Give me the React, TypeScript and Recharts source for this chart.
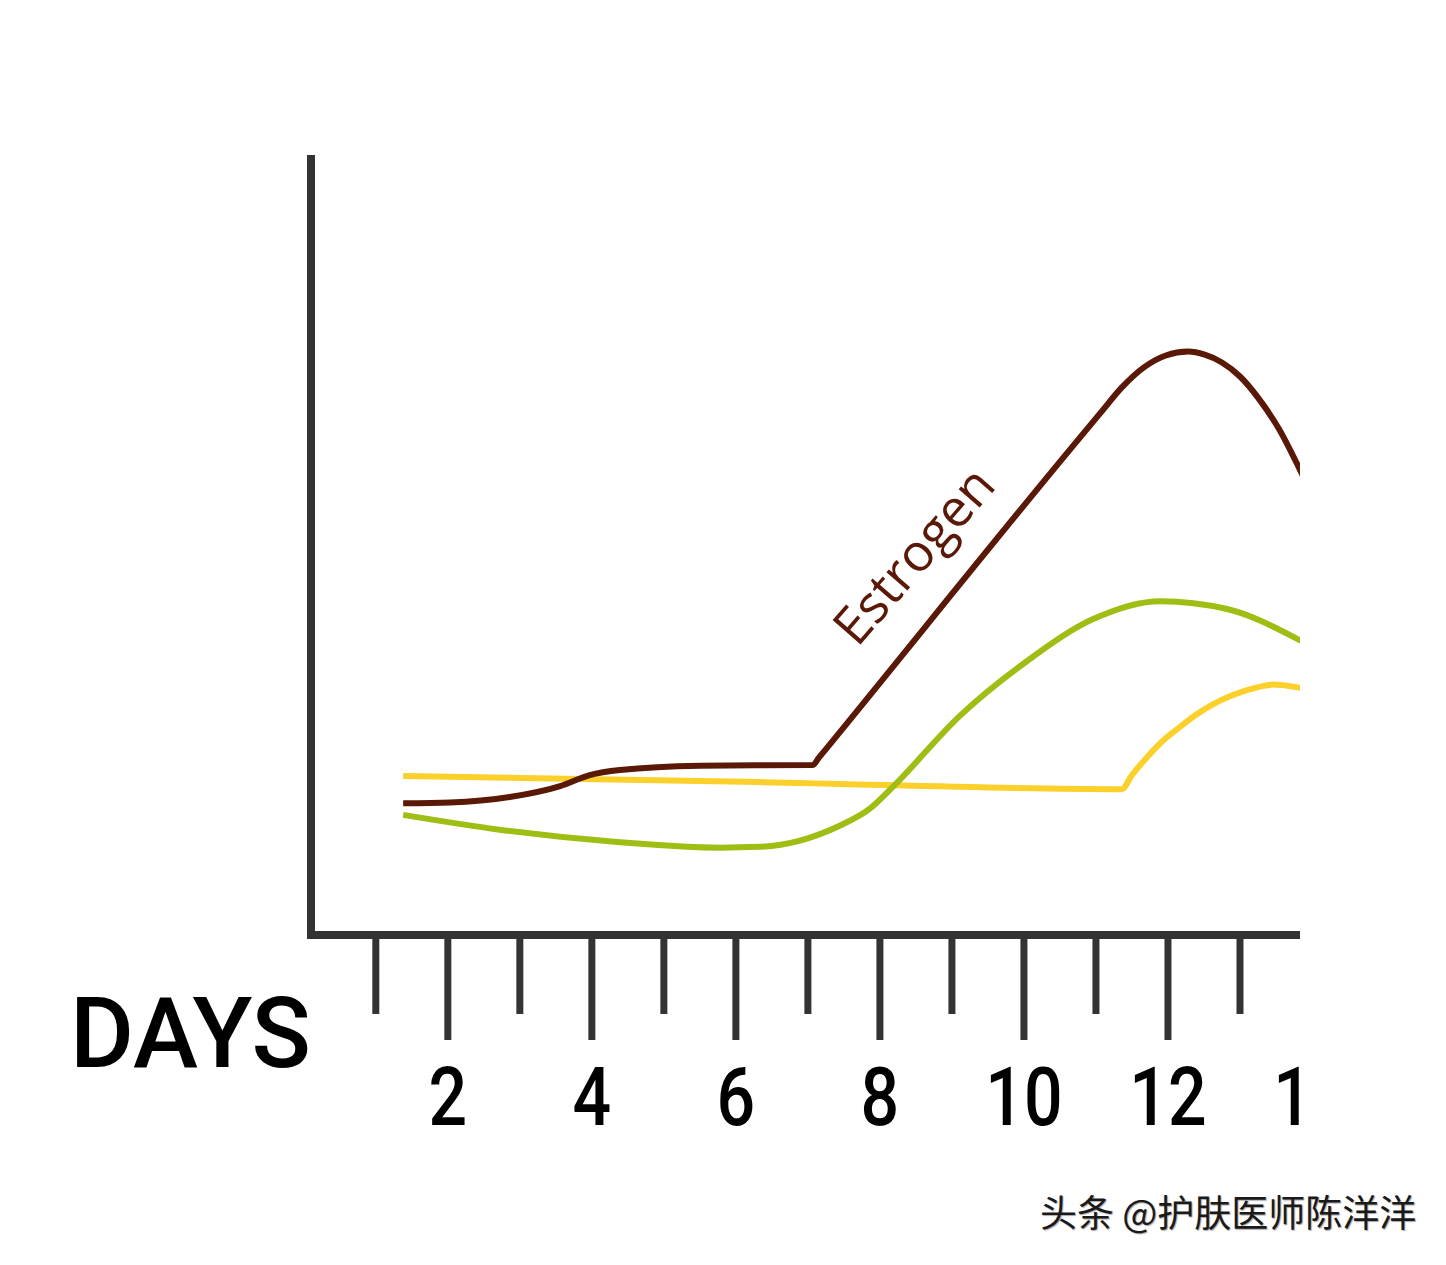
import React from "react";
import { LineChart, Line, XAxis, YAxis } from "recharts";

// day positions + hormone level (0-100 scale)
const estrogenDays = [1.38, 2.03, 2.86, 3.56, 3.97, 4.39, 5.5, 7.07, 7.15, 10.78, 11.06, 11.36, 11.67, 11.97, 12.28, 12.51, 12.75, 13.0, 13.25, 13.54, 13.83, 14.11];
const estrogenLevels = [16.9, 17.0, 17.7, 19.1, 20.5, 21.15, 21.7, 21.8, 22.7, 63.8, 66.9, 70.2, 72.8, 74.3, 74.8, 74.4, 73.4, 71.6, 68.9, 64.9, 59.7, 54.3];

const greenDays = [1.38, 2.72, 4.39, 5.78, 6.33, 6.89, 7.44, 7.86, 8.18, 9.11, 10.04, 10.96, 11.89, 12.82, 13.83, 14.11];
const greenLevels = [15.4, 13.5, 11.9, 11.2, 11.3, 12.1, 14.0, 16.2, 19.0, 28.1, 35.1, 40.5, 42.8, 41.8, 37.8, 36.4];

const yellowDays = [1.38, 6.33, 11.36, 11.5, 11.71, 11.93, 12.17, 12.4, 12.63, 12.86, 13.1, 13.46, 13.83, 14.11];
const yellowLevels = [20.4, 19.6, 18.7, 20.5, 22.8, 24.9, 26.7, 28.3, 29.6, 30.6, 31.4, 32.1, 31.7, 31.2];

const dayTicks = [1, 2, 3, 4, 5, 6, 7, 8, 9, 10, 11, 12, 13, 14];

const toRows = (days: number[], levels: number[]) =>
  days.map((day, i) => ({ day, level: levels[i] }));

const estrogenData = toRows(estrogenDays, estrogenLevels);
const greenData = toRows(greenDays, greenLevels);
const yellowData = toRows(yellowDays, yellowLevels);

const AXIS = "#333333";

const DayTick = (props: any) => {
  const { x, y, payload } = props;
  const major = payload.value % 2 === 0;
  return (
    <g>
      <line x1={x} x2={x} y1={y} y2={y + (major ? 105 : 79)} stroke={AXIS} strokeWidth={7} />
      {major && (
        <text
          x={x}
          y={y + 190}
          textAnchor="middle"
          fontFamily="Roboto"
          fontWeight={500}
          fontSize={81}
          fill="#000"
          transform={`translate(${x} 0) scale(0.84 1) translate(${-x} 0)`}
        >
          {payload.value}
        </text>
      )}
    </g>
  );
};

export default function App() {
  return (
    <div style={{ position: "absolute", left: 0, top: 0, width: 1446, height: 1265, background: "#fff" }}>
      <div style={{ position: "absolute", left: 0, top: 0, width: 1300, height: 1265, overflow: "hidden" }}>
        <LineChart
          width={1348}
          height={1265}
          margin={{ top: 155, right: 0, bottom: 0, left: 251 }}
        >
          <XAxis
            dataKey="day"
            type="number"
            domain={[0.1, 14.5]}
            ticks={dayTicks}
            interval={0}
            height={330}
            tickSize={0}
            tickMargin={0}
            tickLine={false}
            axisLine={{ stroke: AXIS, strokeWidth: 8, strokeLinecap: "square" }}
            tick={<DayTick />}
            allowDuplicatedCategory={false}
          />
          <YAxis
            type="number"
            domain={[0, 100]}
            width={60}
            tick={false}
            tickLine={false}
            axisLine={{ stroke: AXIS, strokeWidth: 8 }}
          />
          <Line data={yellowData} dataKey="level" type="monotone" stroke="#fcd02b" strokeWidth={6} dot={false} isAnimationActive={false} />
          <Line data={greenData} dataKey="level" type="monotone" stroke="#9ebe14" strokeWidth={6} dot={false} isAnimationActive={false} />
          <Line data={estrogenData} dataKey="level" type="monotone" stroke="#5a1806" strokeWidth={6} dot={false} isAnimationActive={false} />
        </LineChart>
      </div>
      <svg width={1446} height={1265} style={{ position: "absolute", left: 0, top: 0, pointerEvents: "none" }}>
        <text x={70} y={1067} fontFamily="Roboto" fontWeight={500} fontSize={98} fill="#000">
          DAYS
        </text>
        <text
          x={912}
          y={554}
          textAnchor="middle"
          dominantBaseline="central"
          fontFamily="Open Sans"
          fontSize={52}
          fill="#5a1806"
          transform="rotate(-49 912 554)"
        >
          Estrogen
        </text>
        <text
          x={1040}
          y={1227}
          fontFamily="Noto Sans CJK SC"
          fontSize={37}
          fill="#1a1a1a"
          style={{ textShadow: "1px 1px 1px rgba(0,0,0,0.35)" }}
        >
          头条 @护肤医师陈洋洋
        </text>
      </svg>
    </div>
  );
}
